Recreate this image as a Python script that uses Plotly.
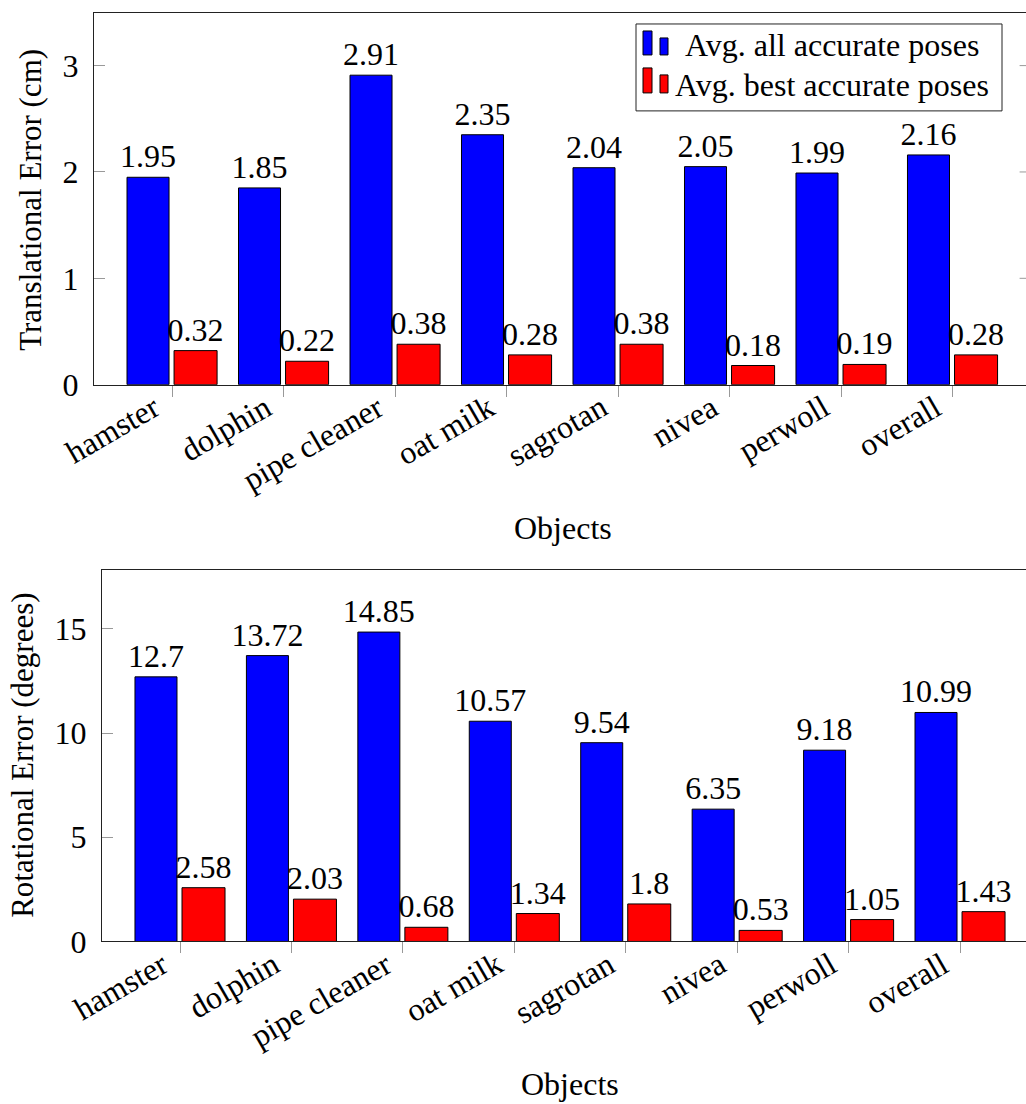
import plotly.graph_objects as go

# Objects evaluated
categories = ["hamster", "dolphin", "pipe cleaner", "oat milk",
              "sagrotan", "nivea", "perwoll", "overall"]

# Translational error (cm)
trans_all = [1.95, 1.85, 2.91, 2.35, 2.04, 2.05, 1.99, 2.16]
trans_best = [0.32, 0.22, 0.38, 0.28, 0.38, 0.18, 0.19, 0.28]

# Rotational error (degrees)
rot_all = [12.7, 13.72, 14.85, 10.57, 9.54, 6.35, 9.18, 10.99]
rot_best = [2.58, 2.03, 0.68, 1.34, 1.8, 0.53, 1.05, 1.43]

series_names = ["Avg. all accurate poses", "Avg. best accurate poses"]
y_titles = ["Translational Error (cm)", "Rotational Error (degrees)"]
x_title = "Objects"
y_ticks_top = [0, 1, 2, 3]
y_ticks_bottom = [0, 5, 10, 15]

# layout grid in a 1026 x 1104 pixel frame, converted to paper fractions
W, H = 1026, 1104
FIG_H = 1121
FONT = "Liberation Serif"
FS = 32
FS_YTITLE = 31
BLUE = "#0000ff"
RED = "#ff0000"
TICK_COLOR = "#999999"
colors = [BLUE, RED]


def px(x):
    return x / W


def py(y):
    return 1 - y / H


fig = go.Figure()

panels = [
    (trans_all, trans_best, "x", "y"),
    (rot_all, rot_best, "x2", "y2"),
]
for all_vals, best_vals, xa, ya in panels:
    fig.add_trace(go.Bar(
        x=categories, y=all_vals, name=series_names[0],
        xaxis=xa, yaxis=ya, showlegend=False,
        marker=dict(color=BLUE, line=dict(color="#000000", width=1)),
        width=0.377, offset=-0.404,
        text=[str(v) for v in all_vals], textposition="outside",
        textfont=dict(family=FONT, size=FS, color="#000000"),
        constraintext="none", cliponaxis=False,
    ))
    fig.add_trace(go.Bar(
        x=categories, y=best_vals, name=series_names[1],
        xaxis=xa, yaxis=ya, showlegend=False,
        marker=dict(color=RED, line=dict(color="#000000", width=1)),
        width=0.386, offset=0.018,
        text=[str(v) for v in best_vals], textposition="outside",
        textfont=dict(family=FONT, size=FS, color="#000000"),
        constraintext="none", cliponaxis=False,
    ))

xaxis_common = dict(
    type="category",
    showline=True, linecolor="#222222", linewidth=1, mirror=True,
    ticks="outside", ticklen=11, tickcolor=TICK_COLOR, tickwidth=1,
    showticklabels=False,
    showgrid=False, zeroline=False,
)
yaxis_common = dict(
    showline=True, linecolor="#222222", linewidth=1, mirror=False,
    ticks="inside", ticklen=11, tickcolor=TICK_COLOR, tickwidth=1,
    tickfont=dict(family=FONT, size=FS, color="#000000"),
    ticklabelstandoff=8,
    showgrid=False, zeroline=False,
)

annotations = [
    dict(text=y_titles[0], x=px(31), y=py(200), xref="paper", yref="paper",
         textangle=-90, showarrow=False, xanchor="center", yanchor="middle",
         font=dict(family=FONT, size=FS_YTITLE)),
    dict(text=y_titles[1], x=px(23), y=py(756.5), xref="paper", yref="paper",
         textangle=-90, showarrow=False, xanchor="center", yanchor="middle",
         font=dict(family=FONT, size=FS_YTITLE)),
    dict(text=x_title, x=px(563), y=py(528), xref="paper", yref="paper",
         showarrow=False, xanchor="center", yanchor="middle",
         font=dict(family=FONT, size=FS)),
    dict(text=x_title, x=px(570), y=py(1085), xref="paper", yref="paper",
         showarrow=False, xanchor="center", yanchor="middle",
         font=dict(family=FONT, size=FS)),
]

# rotated category labels hanging below each tick
for xa, ya in (("x", "y"), ("x2", "y2")):
    for c in categories:
        annotations.append(dict(
            text=c, x=c, y=0, xref=xa, yref=ya,
            xanchor="right", yanchor="top", textangle=-30,
            xshift=-3, yshift=-1, showarrow=False,
            font=dict(family=FONT, size=FS, color="#000000"),
        ))

shapes = []

# inward ticks along the right edge of the upper panel
for t in y_ticks_top[1:]:
    shapes.append(dict(type="line", xref="paper", yref="y",
                       x0=px(1019.6), x1=1.0, y0=t, y1=t,
                       line=dict(color=TICK_COLOR, width=1)))

# legend box with bar-pair symbols
shapes.append(dict(type="rect", xref="paper", yref="paper",
                   x0=px(636), x1=px(1002), y0=py(111), y1=py(24),
                   line=dict(color="#222222", width=1), fillcolor="white", layer="above"))
legend_rows = [(31, 38, 55, 45), (68, 75, 93, 85)]
for (tall_top, short_top, base, text_y), name, col in zip(legend_rows, series_names, colors):
    shapes.append(dict(type="rect", xref="paper", yref="paper",
                       x0=px(643), x1=px(652), y0=py(base), y1=py(tall_top),
                       line=dict(color="#000000", width=1), fillcolor=col, layer="above"))
    shapes.append(dict(type="rect", xref="paper", yref="paper",
                       x0=px(660), x1=px(668), y0=py(base), y1=py(short_top),
                       line=dict(color="#000000", width=1), fillcolor=col, layer="above"))
    annotations.append(dict(
        text=name, x=px(832), y=py(text_y), xref="paper", yref="paper",
        xanchor="center", yanchor="middle", showarrow=False,
        font=dict(family=FONT, size=FS, color="#000000"),
    ))

fig.update_layout(
    width=W, height=FIG_H,
    margin=dict(l=0, r=0, t=0, b=0),
    paper_bgcolor="white", plot_bgcolor="white",
    barmode="group",
    showlegend=False,
    font=dict(family=FONT, size=FS, color="#000000"),
    xaxis=dict(xaxis_common, domain=[px(94), 1.0], anchor="y",
               range=[-0.7, 7.659]),
    yaxis=dict(yaxis_common, domain=[py(385), py(13.3)], anchor="x",
               range=[0, 3.492], tickvals=y_ticks_top),
    xaxis2=dict(xaxis_common, domain=[px(102), 1.0], anchor="y2",
                range=[-0.7, 7.592]),
    yaxis2=dict(yaxis_common, domain=[py(942.3), py(570.7)], anchor="x2",
                range=[0, 17.82], tickvals=y_ticks_bottom),
    annotations=annotations,
    shapes=shapes,
)

fig.write_html(
    "out.html",
    post_script="document.documentElement.style.margin='0';"
                "document.body.style.margin='0';"
                "document.body.style.overflow='hidden';",
)
